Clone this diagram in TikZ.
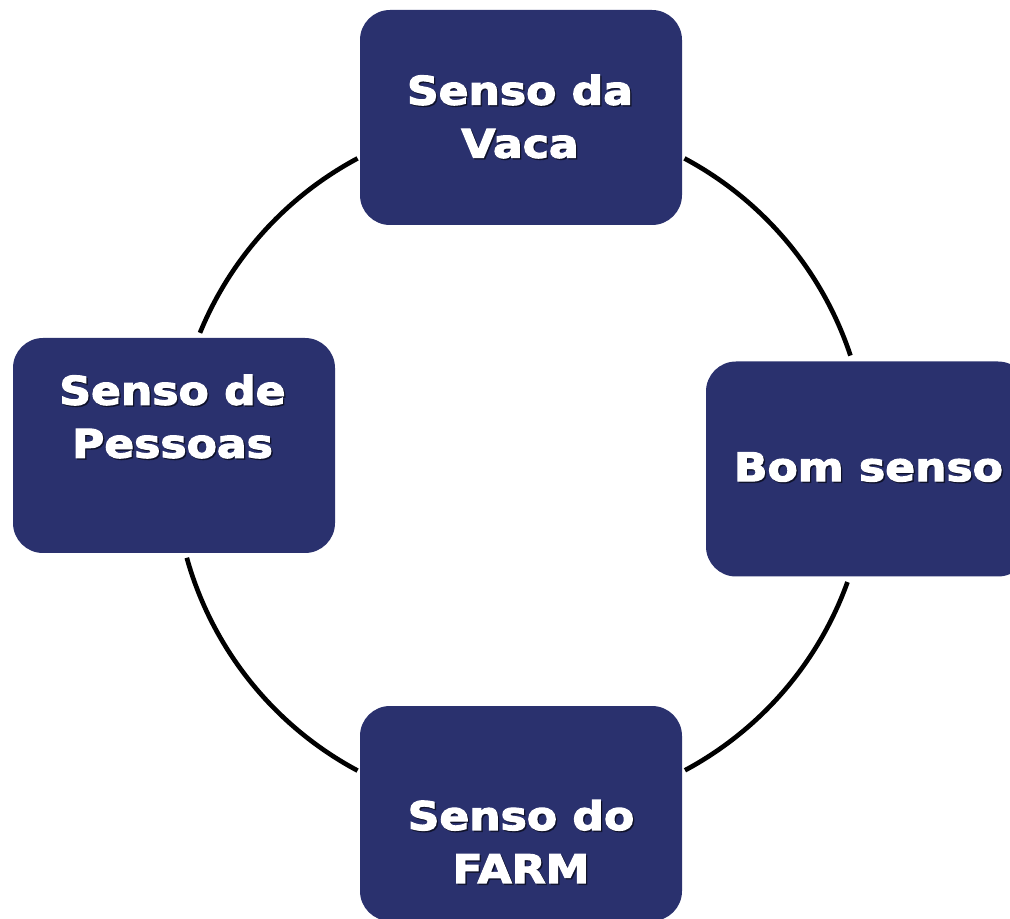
\documentclass[tikz,border=0pt]{standalone}
\usepackage{fontspec}
\newfontfamily\boxfont[FakeStretch=1.12, FakeBold=3]{DejaVu Sans Bold}
\usepackage{tikz}
\usetikzlibrary{calc, positioning}
\definecolor{boxblue}{RGB}{42,49,110}
\tikzstyle{sbox}=[fill=boxblue, rounded corners=22.5pt, minimum width=241.5pt, minimum height=161.25pt, inner sep=0pt]
\tikzstyle{stxt}=[text=white, align=center, inner sep=0pt, font=\boxfont\fontsize{29.5}{39.75}\selectfont]
\tikzstyle{sshd}=[stxt, text=black, text opacity=0.45]
\tikzstyle{ring}=[line width=3.5pt, black]

\begin{document}
\begin{tikzpicture}[x=0.75pt, y=0.75pt]
\useasboundingbox (0,0) rectangle (1010,918);
\clip (0,0) rectangle (1010,918);
\coordinate (O) at (521,453.5);
\node[sbox] (vaca) at (521,800.5) {};
\node[sbox] (bom) at (867,449) {};
\node[sbox] (farm) at (521,104.5) {};
\node[sbox] (pessoas) at (174,472.5) {};
\coordinate (A1) at ($(O)+(118.1:347)$);
\coordinate (A2) at ($(O)+(61.9:347)$);
\coordinate (A3) at ($(O)+(-19.8:347)$);
\coordinate (A4) at ($(O)+(195.6:347)$);
\draw[ring] (A1) arc[start angle=118.1, end angle=157.7, radius=260.25pt];
\draw[ring] (A2) arc[start angle=61.9, end angle=18.3, radius=260.25pt];
\draw[ring] (A3) arc[start angle=-19.8, end angle=-61.8, radius=260.25pt];
\draw[ring] (A4) arc[start angle=195.6, end angle=241.9, radius=260.25pt];
\node[sshd] at (521.5,800) {Senso da\\Vaca};
\node[stxt] (vacaT) at (520,801.5) {Senso da\\Vaca};
\node[sshd] at (870,449.5) {Bom senso};
\node[stxt] (bomT) at (868.5,451) {Bom senso};
\node[sshd] at (522.5,75) {Senso do\\FARM};
\node[stxt] (farmT) at (521,76.5) {Senso do\\FARM};
\node[sshd] at (174,500) {Senso de\\Pessoas};
\node[stxt] (pessoasT) at (172.5,501.5) {Senso de\\Pessoas};
\end{tikzpicture}
\end{document}
